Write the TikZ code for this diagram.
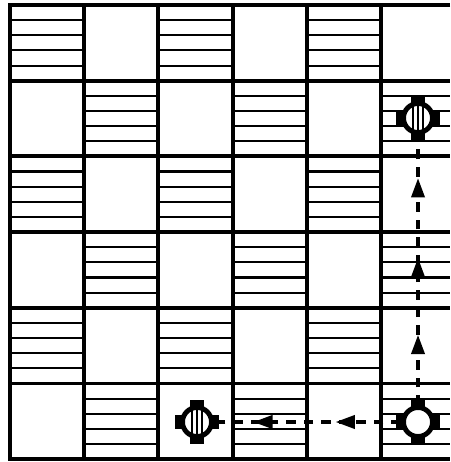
\documentclass[tikz,border=0pt]{standalone}
\usetikzlibrary{arrows.meta,decorations.markings}
\begin{document}
\begin{tikzpicture}[x=0.02cm,y=-0.02cm,>={Triangle[length=11pt,width=7.5pt]},
grid/.style={line width=2.2pt},stripe/.style={line width=1.2pt},
piece/.style={circle,draw,fill=white,line width=2.8pt,minimum size=0.58cm,inner sep=0pt},
hatched/.style={path picture={\foreach \d in {-5,0,5}\draw[line width=1.4pt]([xshift={\d*0.02cm}]path picture bounding box.north)--([xshift={\d*0.02cm}]path picture bounding box.south);}},
tab/.style={line width=7.6pt},
route/.style={line width=1.9pt,dash pattern=on 5.5pt off 4.5pt,postaction={decorate}}]
\useasboundingbox(0,0)rectangle(450,462);
\foreach \r in {0,...,5}\foreach \c in {0,...,5}{
\pgfmathtruncatemacro\odd{mod(\r+\c,2)}
\ifnum\odd=0
\foreach \k in {1,...,4}\draw[stripe]({10+74.2*\c},{5+75.7*\r+15.14*\k})--({min(10+74.2*(\c+1),450)},{5+75.7*\r+15.14*\k});
\fi}
\foreach \c in {1,...,5}\draw[grid]({10+74.2*\c},5)--({10+74.2*\c},459.2);
\foreach \r in {1,...,5}\draw[grid](10,{5+75.7*\r})--(450,{5+75.7*\r});
\draw[grid](450,5)--(10,5)--(10,459.2)--(450,459.2);
\node[piece,hatched](top)at(418,118){};
\node[piece](home)at(418,422){};
\node[piece,hatched](stop)at(197,422){};
\foreach \n in {top,home,stop}{
\draw[tab](\n)++(0,-12)--++(0,-10);
\draw[tab](\n)++(0,12)--++(0,10);
\draw[tab](\n)++(-12,0)--++(-10,0);
\draw[tab](\n)++(12,0)--++(10,0);}
\draw[route,decoration={markings,mark=at position .35 with {\arrow{>}},mark=at position .79 with {\arrow{>}}}](home)--(stop);
\draw[route,decoration={markings,mark=at position .26 with {\arrow{>}},mark=at position .545 with {\arrow{>}},mark=at position .84 with {\arrow{>}}}](home)--(top);
\end{tikzpicture}
\end{document}
